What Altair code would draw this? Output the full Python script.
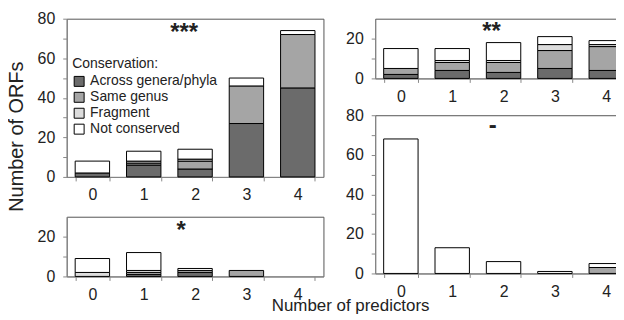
import altair as alt
import pandas as pd

x_cats = ["0", "1", "2", "3", "4"]
categories = ["Across genera/phyla", "Same genus", "Fragment", "Not conserved"]
colors = ["#6b6b6b", "#a5a5a5", "#dcdcdc", "#ffffff"]

# top-left panel (***)
tl_across = [2, 6, 4, 27, 45]
tl_same = [0, 1, 4, 19, 27]
tl_fragment = [0, 1, 1, 0, 0]
tl_not = [6, 5, 5, 4, 2]

# top-right panel (**)
tr_across = [2, 4, 3, 5, 4]
tr_same = [3, 4, 5, 9, 12]
tr_fragment = [0, 1, 1, 3, 1]
tr_not = [10, 6, 9, 4, 2]

# bottom-left panel (*)
bl_across = [0, 1, 2, 0, 0]
bl_same = [0, 1, 1, 3, 0]
bl_fragment = [2, 1, 0, 0, 0]
bl_not = [7, 9, 1, 0, 0]

# bottom-right panel (-)
br_across = [0, 0, 0, 0, 0]
br_same = [0, 0, 0, 0, 3]
br_fragment = [0, 0, 0, 0, 0]
br_not = [68, 13, 6, 1, 2]

ann_text = {"tl": "***", "tr": "**", "bl": "*", "br": "-"}
ann_y = {"tl": 69, "tr": 20, "bl": 19.5, "br": 71}
ann_x = "2"
ann_dx = {"tl": -11, "tr": -12, "bl": -14, "br": -11}

series = {
    "tl": [tl_across, tl_same, tl_fragment, tl_not],
    "tr": [tr_across, tr_same, tr_fragment, tr_not],
    "bl": [bl_across, bl_same, bl_fragment, bl_not],
    "br": [br_across, br_same, br_fragment, br_not],
}

rows = []
for key, lists in series.items():
    for ci, (cat, vals) in enumerate(zip(categories, lists)):
        for x, v in zip(x_cats, vals):
            if v > 0:
                rows.append({"panel": key, "x": x, "category": cat, "value": v, "ord": ci})
bars_df = pd.DataFrame(rows)

ann_df = pd.DataFrame([
    {"panel": k, "x": ann_x, "y": ann_y[k], "text": ann_text[k]} for k in ann_text
])

TXT = "#222222"
GRAY = "#888888"

legend = alt.Legend(
    orient="none", legendX=5.5, legendY=39, title="Conservation:",
    titleFontSize=14, titleFontWeight="normal", titleColor=TXT,
    labelFontSize=14, labelColor=TXT, symbolType="square", symbolSize=100,
    symbolStrokeColor="black", symbolStrokeWidth=1, rowPadding=2,
    titlePadding=3, labelOffset=4, symbolOpacity=1,
)


def panel(key, width, height, ymax, ticks, ytitle=False):
    xkw = dict(tickBand="extent", labelAngle=0, labelPadding=6, tickSize=4, title=None)
    ykw = dict(values=ticks, labelExpr="datum.value % 20 == 0 ? datum.label : ''",
               labelPadding=8, tickSize=4, labelOverlap=False)
    if ytitle:
        ykw.update(title="Number of ORFs", titleFontSize=20, titleX=-50.5,
                   titleY=118, titleBaseline="middle", titleFontWeight="normal",
                   titleColor=TXT)
    else:
        ykw.update(title=None)
    xaxis = alt.Axis(**xkw)
    yaxis = alt.Axis(**ykw)
    xscale = alt.Scale(domain=x_cats, paddingInner=0.33, paddingOuter=0.165)
    yscale = alt.Scale(domain=[0, ymax], nice=False)
    bars = alt.Chart(bars_df).transform_filter(alt.datum.panel == key).mark_bar(
        stroke="black", strokeWidth=1
    ).encode(
        x=alt.X("x:N", scale=xscale, axis=xaxis),
        y=alt.Y("value:Q", stack="zero", scale=yscale, axis=yaxis),
        color=alt.Color("category:N", scale=alt.Scale(domain=categories, range=colors),
                        legend=legend),
        order=alt.Order("ord:Q"),
    )
    text = alt.Chart(ann_df).transform_filter(alt.datum.panel == key).mark_text(
        fontSize=24, fontWeight="bold", color=TXT, dx=ann_dx[key], baseline="alphabetic"
    ).encode(
        x=alt.X("x:N", scale=xscale, axis=xaxis),
        y=alt.Y("y:Q", scale=yscale, axis=yaxis),
        text="text:N",
    )
    return alt.layer(bars, text).properties(width=width, height=height)


tl = panel("tl", 258, 159, 80, [0, 10, 20, 30, 40, 50, 60, 70, 80], ytitle=True)
bl = panel("bl", 258, 60, 30, [0, 10, 20])
tr = panel("tr", 258, 60, 30, [0, 10, 20])
br = panel("br", 258, 159, 80, [0, 10, 20, 30, 40, 50, 60, 70, 80])

left = alt.vconcat(tl, bl, spacing=3)
right = alt.vconcat(tr, br, spacing=1)

chart = alt.hconcat(left, right, spacing=20).properties(
    padding={"left": -3, "top": 1, "right": -17, "bottom": -1},
    title=alt.TitleParams(
        "Number of predictors", orient="bottom", anchor="start", dx=267, offset=-5,
        fontSize=17, fontWeight="normal", color=TXT,
    ),
).configure(font="Liberation Sans").configure_view(
    stroke="#555555", strokeWidth=1
).configure_axis(
    domainColor=GRAY, tickColor=GRAY, labelFontSize=16, labelColor=TXT, grid=False,
    labelOverlap=False
)

chart.save("out.html", embed_options={"renderer": "svg", "actions": False})
